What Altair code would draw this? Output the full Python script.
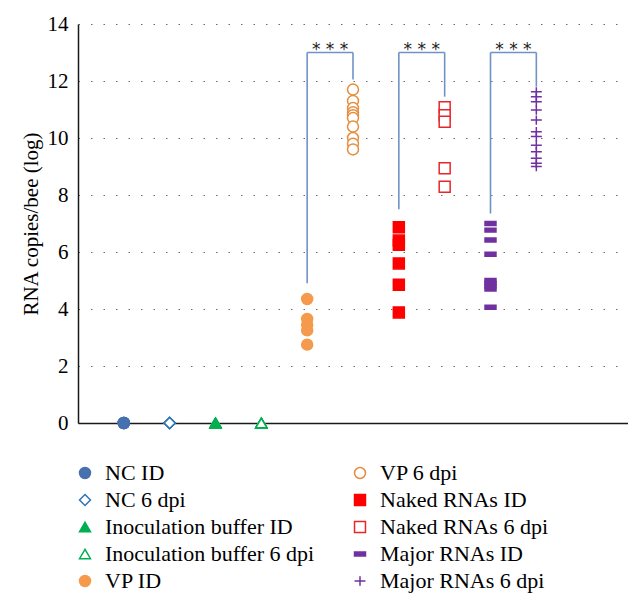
import altair as alt
import pandas as pd

# ---------------- data ----------------
groups = ["NC ID", "NC 6 dpi", "Inoculation buffer ID", "Inoculation buffer 6 dpi",
          "VP ID", "VP 6 dpi", "Naked RNAs ID", "Naked RNAs 6 dpi",
          "Major RNAs ID", "Major RNAs 6 dpi"]

nc_id = [0, 0, 0, 0, 0]
nc_6dpi = [0, 0, 0, 0, 0]
ib_id = [0, 0, 0, 0, 0]
ib_6dpi = [0, 0, 0, 0, 0]
vp_id = [4.35, 3.65, 3.45, 3.25, 2.75]
vp_6dpi = [11.7, 11.3, 11.05, 10.9, 10.8, 10.7, 10.4, 10.0, 9.8, 9.6]
naked_id = [6.87, 6.4, 6.25, 5.6, 4.85, 3.88]
naked_6dpi = [11.08, 10.8, 10.57, 8.94, 8.29]
major_id = [7.0, 6.77, 6.42, 5.92, 5.0, 4.9, 4.8, 4.7, 4.06]
major_6dpi = [11.62, 11.45, 11.27, 10.98, 10.63, 10.22, 10.05, 9.75, 9.52, 9.29, 9.11, 9.0]

values = [nc_id, nc_6dpi, ib_id, ib_6dpi, vp_id, vp_6dpi,
          naked_id, naked_6dpi, major_id, major_6dpi]

brk_left = ["VP ID", "Naked RNAs ID", "Major RNAs ID"]
brk_right = ["VP 6 dpi", "Naked RNAs 6 dpi", "Major RNAs 6 dpi"]
brk_left_bottom = [4.9, 7.5, 7.35]
brk_right_bottom = [12.05, 11.45, 11.8]
brk_top = [13.0, 13.0, 13.0]
brk_label = ["* * *", "* * *", "* * *"]

y_ticks = [0, 2, 4, 6, 8, 10, 12, 14]

# ---------------- styles ----------------
DASH = "M-1,-0.35H1V0.35H-1Z"
PLUS = "M-1,0H1M0,-0.85V0.85"
shapes = ["circle", "diamond", "triangle-up", "triangle-up", "circle", "circle",
          "square", "square", DASH, PLUS]
fills = ["#4670ae", "white", "#00b050", "white", "#f59a4c", "white",
         "#ff0000", "white", "#7030a0", "transparent"]
strokes = ["#4670ae", "#2e75b6", "#00b050", "#00b050", "#f59a4c", "#e58d3e",
           "#ff0000", "#e8262a", "#7030a0", "#7030a0"]

# ---------------- tables ----------------
rows = []
for gi, (g, vals) in enumerate(zip(groups, values)):
    for v in vals:
        rows.append({"group": g, "pos": gi + 1, "value": v})
df = pd.DataFrame(rows)

bdf = pd.DataFrame({
    "lpos": [groups.index(g) + 1 for g in brk_left],
    "rpos": [groups.index(g) + 1 for g in brk_right],
    "lb": brk_left_bottom,
    "rb": brk_right_bottom,
    "top": brk_top,
    "label": brk_label,
})
bdf["mid"] = (bdf["lpos"] + bdf["rpos"]) / 2

SERIF = "Liberation Serif"

xscale = alt.Scale(domain=[0, 12], nice=False, zero=False)
yscale = alt.Scale(domain=[0, 14], nice=False)
xaxis = alt.Axis(labels=False, ticks=False, grid=False, title=None)
yaxis = alt.Axis(values=y_ticks, ticks=False, grid=True,
                 title="RNA copies/bee (log)")


def X(f):
    return alt.X(f"{f}:Q", scale=xscale, axis=xaxis)


def Y(f):
    return alt.Y(f"{f}:Q", scale=yscale, axis=yaxis)


legend = alt.Legend(orient="none", legendX=-4, legendY=438, columns=2,
                    title=None)

LINE = "#6f93c6"
left_v = alt.Chart(bdf).mark_rule(color=LINE, strokeWidth=1.6).encode(
    x=X("lpos"), y=Y("lb"), y2="top:Q")
right_v = alt.Chart(bdf).mark_rule(color=LINE, strokeWidth=1.6).encode(
    x=X("rpos"), y=Y("rb"), y2="top:Q")
horiz = alt.Chart(bdf).mark_rule(color=LINE, strokeWidth=1.6).encode(
    x=X("lpos"), x2="rpos:Q", y=Y("top"))
stars = alt.Chart(bdf).mark_text(font="DejaVu Sans", fontSize=17,
                                 baseline="alphabetic", align="center",
                                 color="#222", dy=2).encode(
    x=X("mid"), y=Y("top"), text="label:N")

pts = alt.Chart(df).mark_point(size=120, strokeWidth=1.5, opacity=1,
                               clip=False).encode(
    x=X("pos"), y=Y("value"),
    shape=alt.Shape("group:N", scale=alt.Scale(domain=groups, range=shapes), legend=legend),
    fill=alt.Fill("group:N", scale=alt.Scale(domain=groups, range=fills), legend=legend),
    stroke=alt.Stroke("group:N", scale=alt.Scale(domain=groups, range=strokes), legend=legend),
)

chart = alt.layer(left_v, right_v, horiz, stars, pts).properties(
    width=550, height=399,
    padding={"left": 70, "top": 16, "right": 0, "bottom": 176},
    autosize=alt.AutoSizeParams(type="none"),
).configure_view(strokeWidth=0).configure_axis(
    domainColor="#1a1a1a", domainWidth=1.5,
    gridDash=[1.5, 11], gridColor="#6b6b6b", gridWidth=1,
    labelFont=SERIF, labelFontSize=21, labelColor="black", labelPadding=10,
    titleFont=SERIF, titleFontSize=21, titleFontWeight="normal",
    titleColor="black", titlePadding=6,
).configure_legend(
    labelFont=SERIF, labelFontSize=22, labelColor="black", labelLimit=400,
    labelOffset=9, symbolSize=120, symbolStrokeWidth=1.5,
    columnPadding=34, rowPadding=5, padding=0,
)

chart.save("out.html", embed_options={"renderer": "svg", "actions": False})
